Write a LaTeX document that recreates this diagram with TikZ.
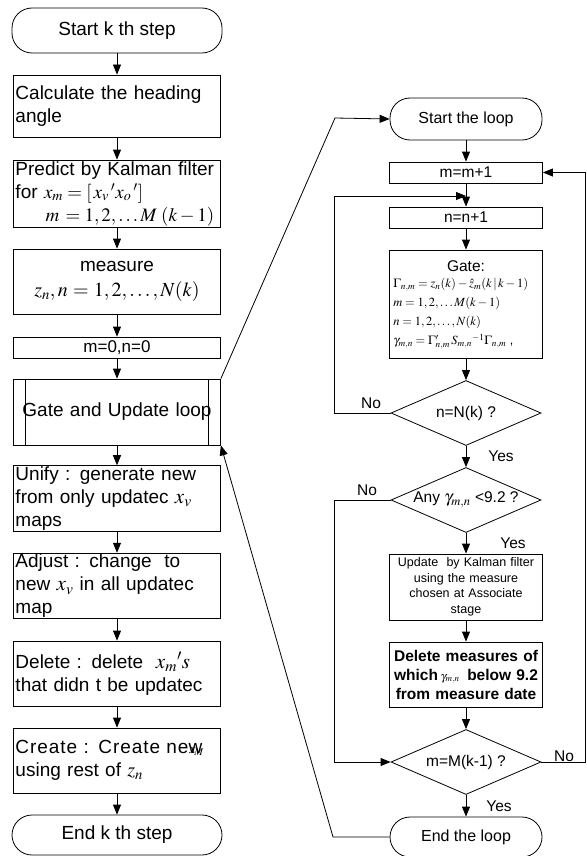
\documentclass[tikz,border=0pt]{standalone}
\usepackage{mathptmx}
\usepackage[no-math]{fontspec}
\setmainfont{Liberation Sans}
\usetikzlibrary{shapes.geometric,arrows.meta}
\newcommand\FontL{\fontsize{19}{23}\selectfont}
\newcommand\FontM{\fontsize{15.5}{19}\selectfont}
\newcommand\FontS{\fontsize{12.5}{15.5}\selectfont}
\begin{document}
\begin{tikzpicture}[x=1pt,y=-1pt,line width=0.8pt,
  arr/.style={-{Triangle[length=10pt,width=8pt]}},
  lbox/.style={draw,rectangle,minimum width=207pt,text width=203pt,inner xsep=2pt,inner ysep=1pt,align=left,font=\FontL},
  lcbox/.style={lbox,align=center},
  term/.style={draw,rectangle,rounded corners=20pt,font=\FontL},
  rbox/.style={draw,rectangle,minimum width=153pt,text width=149pt,inner xsep=2pt,inner ysep=1pt,align=center,font=\FontM},
  dia/.style={draw,diamond,minimum width=150pt,minimum height=65pt,inner sep=0pt,aspect=2.3,font=\FontM},
  lab/.style={font=\FontM}]
\useasboundingbox (0,0) rectangle (586,856);
% left column
\node[term,minimum width=210pt,minimum height=45pt] (st) at (117,30.5) {Start k th step};
\node[lbox,minimum height=62pt] (calc) at (117,106) {Calculate the heading\\angle};
\node[lbox,minimum height=67pt] (pred) at (117,193.5) {Predict by Kalman filter\\for $x_m=[\,x_v\,{}'x_o\,{}']$\\\hspace*{30pt}$m\,=1,2,\ldots M\;(k-1)$};
\node[lcbox,minimum height=65pt] (meas) at (117,281.5) {measure\\[2pt]{\fontsize{20}{22}\selectfont$z_n, n=1,2,\ldots,N(k)$}};
\node[lcbox,minimum height=21pt,font=\fontsize{17}{19}\selectfont] (m0) at (117,347.5) {m=0,n=0};
\node[lcbox,minimum height=66pt] (gul) at (117,412) {Gate and Update loop};
\draw ([xshift=12pt]gul.north west) -- ([xshift=12pt]gul.south west);
\draw ([xshift=-13pt]gul.north east) -- ([xshift=-13pt]gul.south east);
\node[lbox,minimum height=65pt] (uni) at (117,498.5) {Unify : generate new\\from only updatec {\fontsize{21}{22}\selectfont$x_v$}\\maps};
\node[lbox,minimum height=64pt] (adj) at (117,586) {Adjust : change \ to\\new {\fontsize{21}{22}\selectfont$x_v$} in all updatec\\map};
\node[lbox,minimum height=65pt] (del) at (117,673.5) {Delete : delete \ {\fontsize{21}{22}\selectfont$x_m{}'s$}\\that didn t be updatec};
\node[lbox,minimum height=65pt] (cre) at (117,760.5) {{\addfontfeature{LetterSpace=5}Create : Create ne}w\kern-13pt{\fontsize{14}{16}\selectfont$x_{\!M}$}\\using rest of {\fontsize{20}{22}\selectfont$z_n$}};
\node[term,minimum width=210pt,minimum height=40pt] (ek) at (117,835) {End k th step};
\draw[arr] (st) -- (calc);
\draw[arr] (calc) -- (pred);
\draw[arr] (pred) -- (meas);
\draw[arr] (meas) -- (m0);
\draw[arr] (m0) -- (gul);
\draw[arr] (gul) -- (uni);
\draw[arr] (uni) -- (adj);
\draw[arr] (adj) -- (del);
\draw[arr] (del) -- (cre);
\draw[arr] (cre) -- (ek);
% right column
\node[term,minimum width=152pt,minimum height=42pt,font=\fontsize{16}{19}\selectfont] (sl) at (466,119) {Start the loop};
\node[rbox,minimum height=21pt] (mm) at (466,172.5) {m=m+1};
\node[rbox,minimum height=21pt] (nn) at (466,217.5) {n=n+1};
\node[rbox,minimum height=108pt] (gate) at (466,304) {};
\node[lab] (gatet) at (466,266) {Gate:};
\node[anchor=north west,align=left,inner sep=0pt,font=\fontsize{12.5}{19}\selectfont] (gatem) at (393,278)
  {$\Gamma_{n,m} = z_n(k) - \hat{z}_m(k\,|\,k-1)$\\
   $m = 1,2,\ldots M(k-1)$\\
   $n = 1,2,\ldots,N(k)$\\
   $\gamma_{m,n} = \Gamma'_{n,m}\,S_{m,n}{}^{-1}\Gamma_{n,m}$\ ,};
\node[dia] (d1) at (466,413) {n=N(k) ?};
\node[dia] (d2) at (466,500) {Any {\fontsize{17}{19}\selectfont$\gamma_{m,n}$} <9.2 ?};
\node[rbox,minimum height=66pt,font=\FontS] (upd) at (466,587) {Update \ by Kalman filter\\using the measure\\chosen at Associate\\stage};
\node[rbox,minimum height=65pt,font=\bfseries\FontM] (dme) at (466,674.5) {Delete measures of\\which\,{\mdseries\fontsize{12}{14}\selectfont$\gamma_{m,n}$}\, below 9.2\\from measure date};
\node[dia] (d3) at (466,762) {m=M(k-1) ?};
\node[term,minimum width=152pt,minimum height=40pt,font=\fontsize{16}{19}\selectfont] (el) at (466,837) {End the loop};
\draw[arr] (sl) -- (mm);
\draw[arr] (mm) -- (nn);
\draw[arr] (nn) -- (gate);
\draw[arr] (gate) -- (d1);
\draw[arr] (d1) -- (d2);
\draw[arr] (d2) -- (upd);
\draw[arr] (upd) -- (dme);
\draw[arr] (dme) -- (d3);
\draw[arr] (d3) -- (el);
% labels
\node[lab] (no1) at (371,403) {No};
\node[lab] (yes1) at (501,456) {Yes};
\node[lab] (no2) at (367,490) {No};
\node[lab] (yes2) at (513,543) {Yes};
\node[lab] (no3) at (564,756) {No};
\node[lab] (yes3) at (499,806) {Yes};
% connectors
\coordinate (c1) at (335,118);
\coordinate (c2) at (333,837);
\coordinate (c3) at (334,413);
\coordinate (c4) at (334,196);
\coordinate (c5) at (466,196);
\coordinate (c6) at (334,500);
\coordinate (c7) at (334,762);
\coordinate (c8) at (585.4,762);
\coordinate (c9) at (585.4,172.5);
\draw[arr] (gul.north east) -- (c1) -- (sl.west);
\draw[arr] (el.west) -- (c2) -- (gul.south east);
\draw[arr] (d1.west) -- (c3) -- (c4) -- (c5);
\draw[arr] (d2.west) -- (c6) -- (c7) -- (d3.west);
\draw[arr] (d3.east) -- (c8) -- (c9) -- (mm.east);
\end{tikzpicture}
\end{document}
